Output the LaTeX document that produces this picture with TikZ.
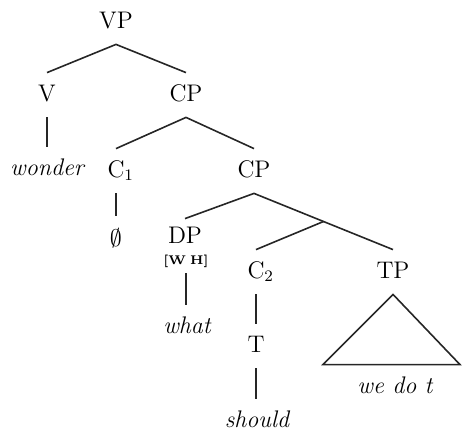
\documentclass[tikz,border=0pt]{standalone}
\usetikzlibrary{calc}
\begin{document}
\begin{tikzpicture}[x=0.5pt,y=-0.5pt,
  lbl/.style={anchor=base,inner xsep=0pt,inner ysep=5pt,text height=9pt,text depth=3pt,font=\fontsize{12}{14}\selectfont},
  feat/.style={anchor=base,inner xsep=0pt,inner ysep=1pt,text height=5pt,text depth=3.5pt,font=\fontsize{6.3}{7}\selectfont\bfseries},
  edge/.style={draw=black!85,line width=0.8pt}]
\useasboundingbox (0,0) rectangle (462,429);
% nodes (anchor=base at baselines)
\node[lbl] (vp) at (116,28) {VP};
\node[lbl] (v) at (47,101) {V};
\node[lbl] (cp1) at (186,101) {CP};
\node[lbl] (wonder) at (47,175) {\itshape wonder};
\node[lbl] (c1) at (116,177) {C\rlap{$_1$}};
\node[lbl] (cp2) at (254,177) {CP};
\node[lbl] (empty) at (116,246) {$\emptyset$};
\node[lbl] (dp) at (185,243) {DP};
\node[feat] (wh) at (186,264) {[W\,\,H]};
\node[lbl] (what) at (187,333) {\itshape what};
\node[lbl] (c2) at (256,278) {C\rlap{$_2$}};
\node[lbl] (tp) at (393,278) {TP};
\node[lbl] (t) at (256,352) {T};
\node[lbl] (should) at (257,427) {\itshape should};
\node[lbl] (wedot) at (395,393) {\itshape we do t};
\coordinate (cbar) at ($(cp2.south)!0.5!(tp.north)$);
% edges
\draw[edge] (v.north) -- (vp.south) -- (cp1.north);
\draw[edge] (v.south) -- (wonder.north);
\draw[edge] (c1.north) -- (cp1.south) -- (cp2.north);
\draw[edge] (c1.south) -- ([yshift=1pt]empty.north);
\draw[edge] ([yshift=-2pt]dp.north) -- (cp2.south) -- (cbar) -- (tp.north);
\draw[edge] (cbar) -- (c2.north);
\draw[edge] (wh.south) -- (wh.south |- what.north);
\draw[edge] (c2.south) -- (t.north);
\draw[edge] (t.south) -- (t.south |- should.north);
\draw[edge] (tp.south) -- ([xshift=-36pt]wedot.north) -- ([xshift=32.5pt]wedot.north) -- cycle;
\end{tikzpicture}
\end{document}
